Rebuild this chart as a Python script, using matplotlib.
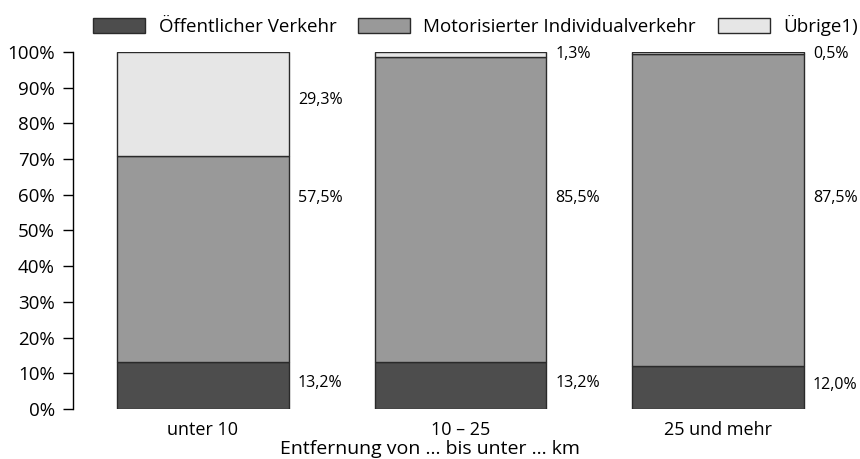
import matplotlib
matplotlib.use("Agg")
import matplotlib.pyplot as plt
from matplotlib.patches import Patch

categories = ["unter 10", "10 – 25", "25 und mehr"]
series_names = ["Öffentlicher Verkehr", "Motorisierter Individualverkehr", "Übrige1)"]
oev = [13.2, 13.2, 12.0]
miv = [57.5, 85.5, 87.5]
uebrige = [29.3, 1.3, 0.5]
yticks = [0, 10, 20, 30, 40, 50, 60, 70, 80, 90, 100]
xlabel = "Entfernung von … bis unter … km"

colors = ["#4d4d4d", "#999999", "#e6e6e6"]
edge = "#2a2a2a"

plt.rcParams['font.family'] = ['Open Sans', 'DejaVu Sans']

fig = plt.figure(figsize=(8.6, 4.59), dpi=100)
ax = fig.add_axes([0.0849, 0.109, 0.901, 0.778])

x = list(range(len(categories)))
w = 0.667
series = [oev, miv, uebrige]
bottoms = [0.0] * len(categories)
for vals, c in zip(series, colors):
    ax.bar(x, vals, width=w, bottom=bottoms, color=c, edgecolor=edge, linewidth=1.0)
    bottoms = [b + v for b, v in zip(bottoms, vals)]


def fmt(v):
    return f"{v:.1f}".replace(".", ",") + "%"


# value labels to the right of each bar
vfs = 11.5
for i in range(len(categories)):
    xr = x[i] + w / 2 + 0.035
    ax.text(xr, oev[i] / 2 + 0.7, fmt(oev[i]), va="center", ha="left", fontsize=vfs)
    ax.text(xr, 59.0, fmt(miv[i]), va="center", ha="left", fontsize=vfs)
    if uebrige[i] > 10:
        ty = oev[i] + miv[i] + uebrige[i] / 2 + 1.2
    else:
        ty = 99.4
    ax.text(xr, ty, fmt(uebrige[i]), va="center", ha="left", fontsize=vfs)

ax.set_xlim(-0.504, 2.504)
ax.set_ylim(0, 100)
ax.set_yticks(yticks)
ax.set_yticklabels([f"{t}%" for t in yticks], fontsize=13.5)
ax.set_xticks(x)
ax.set_xticklabels(categories, fontsize=13)
ax.tick_params(axis="x", length=0, pad=9)
ax.tick_params(axis="y", length=7, width=1, direction="out", pad=6)
for s in ["top", "right", "bottom"]:
    ax.spines[s].set_visible(False)
ax.spines["left"].set_linewidth(1)
ax.set_xlabel(xlabel, fontsize=14)
# centre the axis title on the figure like the reference
ax.xaxis.set_label_coords((0.5 - 0.0849) / 0.901, -0.113)
ax.xaxis.label.set_verticalalignment("center")

handles = [Patch(facecolor=c, edgecolor=edge, linewidth=1.0) for c in colors]
fig.legend(handles, series_names, loc="center", bbox_to_anchor=(0.553, 0.945), ncol=3,
           frameon=False, fontsize=13.5, handlelength=2.77, handleheight=0.9,
           handletextpad=0.7, columnspacing=1.17, borderaxespad=0)

fig.savefig("out.png", dpi=100)
